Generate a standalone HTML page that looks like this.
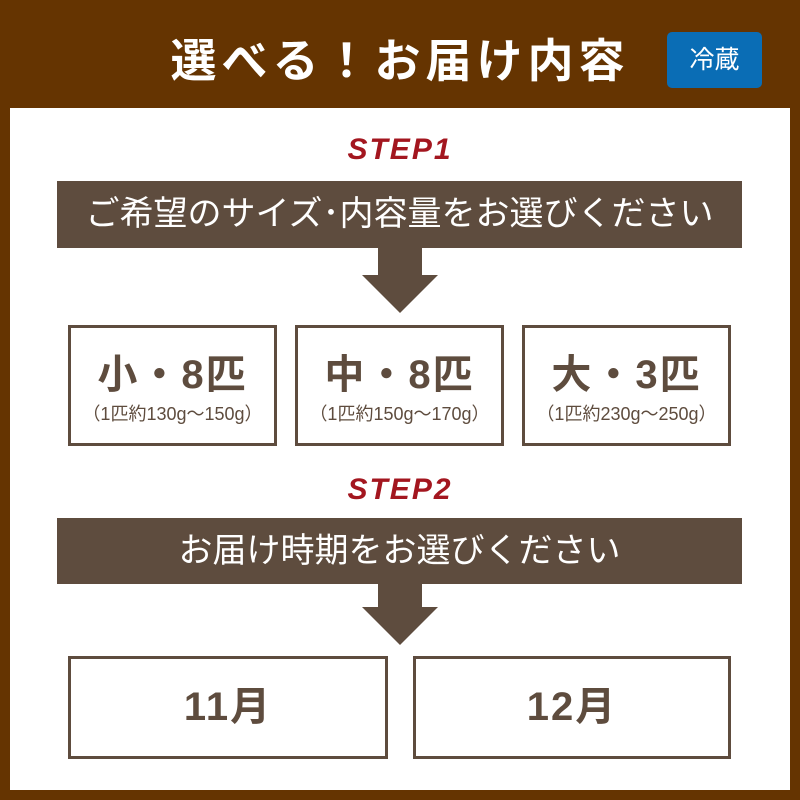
<!DOCTYPE html>
<html><head><meta charset="utf-8"><style>
body{margin:0;width:800px;height:800px;background:#653401;position:relative;overflow:hidden;font-family:"Liberation Sans","Noto Sans CJK JP",sans-serif}
.a{position:absolute}
.panel{left:10px;top:108px;width:780px;height:682px;background:#fff}
.title{left:140px;top:30px;width:520px;text-align:center;color:#fff;font-size:46px;font-weight:bold;letter-spacing:5px;line-height:62px}
.badge{left:667px;top:32px;width:95px;height:56px;background:#0a6db5;border-radius:5px;color:#fff;font-size:25px;line-height:56px;text-align:center}
.step{left:0;width:800px;text-align:center;color:#a3161f;font-style:italic;font-weight:bold;font-size:30px;letter-spacing:2px}
.bar{left:57px;width:685px;background:#5e4c3e;color:#fff;text-align:center;font-size:34px}
.box{border:3px solid #5e4c3e;box-sizing:border-box;color:#5e4c3e;text-align:center;background:#fff}
.big{font-size:40px;font-weight:bold;letter-spacing:2px}
.sm{font-size:18px}
</style></head><body>
<div class="a panel"></div>
<div class="a title">選べる！お届け内容</div>
<div class="a badge">冷蔵</div>

<div class="a step" style="top:128px;line-height:44px">STEP1</div>
<div class="a bar" style="top:181px;height:67px;line-height:67px">ご希望のサイズ･内容量をお選びください</div>
<svg class="a" style="left:0;top:0" width="800" height="800">
<polygon points="378,247 422,247 422,275 438,275 400,313 362,275 378,275" fill="#5e4c3e"/>
<polygon points="378,583 422,583 422,607 438,607 400,645 362,607 378,607" fill="#5e4c3e"/>
</svg>
<div class="a box" style="left:68px;top:325px;width:209px;height:121px"><div class="big" style="margin-top:22px;line-height:50px">小・8匹</div><div class="sm" style="margin-top:0px">（1匹約130g～150g）</div></div>
<div class="a box" style="left:295px;top:325px;width:209px;height:121px"><div class="big" style="margin-top:22px;line-height:50px">中・8匹</div><div class="sm" style="margin-top:0px">（1匹約150g～170g）</div></div>
<div class="a box" style="left:522px;top:325px;width:209px;height:121px"><div class="big" style="margin-top:22px;line-height:50px">大・3匹</div><div class="sm" style="margin-top:0px">（1匹約230g～250g）</div></div>

<div class="a step" style="top:468px;line-height:44px">STEP2</div>
<div class="a bar" style="top:518px;height:66px;line-height:66px">お届け時期をお選びください</div>
<div class="a box" style="left:68px;top:656px;width:320px;height:103px"><div class="big" style="font-size:40px;line-height:97px">11月</div></div>
<div class="a box" style="left:413px;top:656px;width:318px;height:103px"><div class="big" style="font-size:40px;line-height:97px">12月</div></div>
</body></html>
